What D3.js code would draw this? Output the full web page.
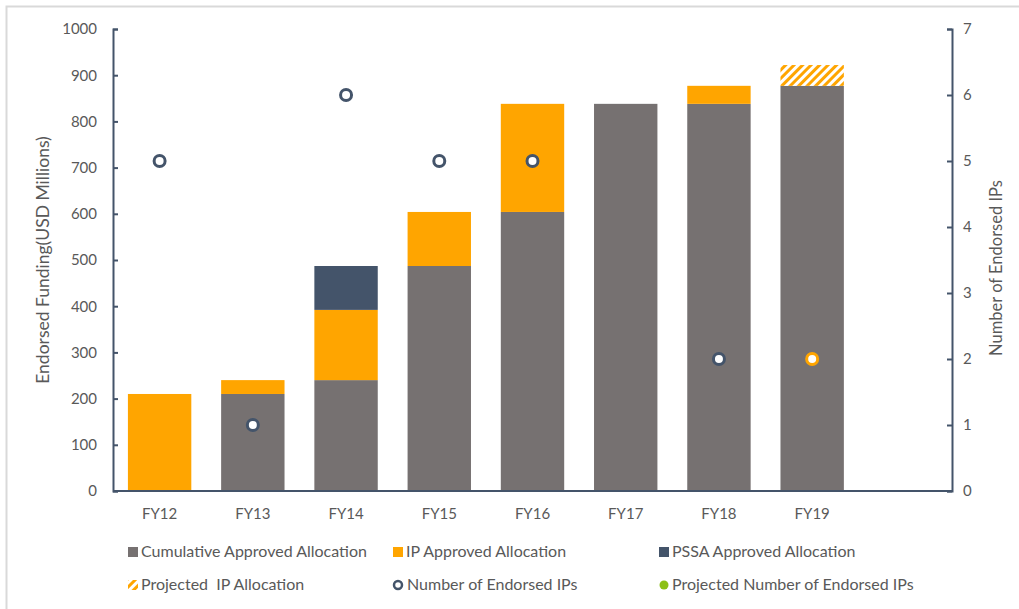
<!DOCTYPE html>
<html>
<head>
<meta charset="utf-8">
<script src="https://cdn.jsdelivr.net/npm/d3@7"></script>
<style>
    body { margin: 0; background: #fff; }
    svg text { font-family: Lato, "Open Sans", sans-serif; fill: #595959; }
</style>
</head>
<body>
<svg id="chart" width="1019" height="609"></svg>
<script>
// values
var categories = ['FY12', 'FY13', 'FY14', 'FY15', 'FY16', 'FY17', 'FY18', 'FY19', ''];
var cumulativeApproved = [0, 210, 240, 487, 604, 838, 838, 877, 0];
var ipApproved = [210, 30, 152, 117, 234, 0, 39, 0, 0];
var pssaApproved = [0, 0, 95, 0, 0, 0, 0, 0, 0];
var projectedIP = [0, 0, 0, 0, 0, 0, 0, 45, 0];
var endorsedIPs = [5, 1, 6, 5, 5, null, 2, null, null];
var projectedEndorsedIPs = [null, null, null, null, null, null, null, 2, null];
var leftTicks = [0, 100, 200, 300, 400, 500, 600, 700, 800, 900, 1000];
var rightTicks = [0, 1, 2, 3, 4, 5, 6, 7];

(function() {
    var GRAY = '#767171',
        ORANGE = '#FFA500',
        NAVY = '#44546A',
        GREEN = '#8CC016';

    var svg = d3.select('#chart');
    var mLeft = 113, mRight = 952, mTop = 29, mBottom = 491;

    // light frame round the figure
    svg.append('rect')
        .attr('x', 6.5).attr('y', 6.5)
        .attr('width', 1030).attr('height', 620)
        .attr('fill', 'none')
        .attr('stroke', '#d9d9d9')
        .attr('stroke-width', 2);

    var defs = svg.append('defs');
    var pat = defs.append('pattern')
        .attr('id', 'hatch')
        .attr('patternUnits', 'userSpaceOnUse')
        .attr('width', 6).attr('height', 6)
        .attr('patternTransform', 'rotate(45)');
    pat.append('rect').attr('width', 6).attr('height', 6).attr('fill', '#fff');
    pat.append('rect').attr('width', 3).attr('height', 6).attr('fill', ORANGE);

    var x = d3.scaleBand().domain(categories).range([mLeft, mRight]).paddingInner(0.32).paddingOuter(0.16);
    var y = d3.scaleLinear().domain([0, 1000]).range([mBottom, mTop]);
    var y2 = d3.scaleLinear().domain([0, 7]).range([mBottom, mTop]);

    var rows = categories.map(function(c, i) {
        return {cat: c, cum: cumulativeApproved[i], ip: ipApproved[i], pssa: pssaApproved[i], proj: projectedIP[i]};
    });
    var keys = ['cum', 'ip', 'pssa', 'proj'];
    var fills = {cum: GRAY, ip: ORANGE, pssa: NAVY, proj: 'url(#hatch)'};
    var stacked = d3.stack().keys(keys)(rows);

    svg.append('g').selectAll('g')
        .data(stacked)
        .join('g')
        .attr('fill', function(d) { return fills[d.key]; })
        .selectAll('rect')
        .data(function(d) { return d.filter(function(p) { return p[1] > p[0]; }); })
        .join('rect')
        .attr('x', function(d) { return x(d.data.cat); })
        .attr('width', x.bandwidth())
        .attr('y', function(d) { return y(d[1]); })
        .attr('height', function(d) { return y(d[0]) - y(d[1]); });

    // axes
    var leftAxis = svg.append('g')
        .attr('transform', 'translate(' + mLeft + ',0)')
        .call(d3.axisLeft(y).tickValues(leftTicks).tickFormat(d3.format('d')).tickSize(-5).tickPadding(16));
    var rightAxis = svg.append('g')
        .attr('transform', 'translate(' + mRight + ',0)')
        .call(d3.axisRight(y2).tickValues(rightTicks).tickFormat(d3.format('d')).tickSize(-5).tickPadding(11));
    var bottomAxis = svg.append('g')
        .attr('transform', 'translate(0,' + mBottom + ')')
        .call(d3.axisBottom(x).tickSize(0).tickPadding(17));

    [leftAxis, rightAxis, bottomAxis].forEach(function(a) {
        a.select('.domain').attr('stroke', NAVY).attr('stroke-width', 2);
        a.selectAll('.tick line').attr('stroke', NAVY).attr('stroke-width', 2);
        a.selectAll('.tick text').attr('font-size', 15).style('fill', '#595959')
            .style('font-family', 'Lato, "Open Sans", sans-serif');
    });
    bottomAxis.select('.domain').attr('d', 'M' + mLeft + ',0H' + mRight);

    svg.append('text')
        .attr('transform', 'translate(49,' + ((mTop + mBottom) / 2) + ') rotate(-90)')
        .attr('text-anchor', 'middle')
        .attr('font-size', 17.5)
        .text('Endorsed Funding(USD Millions)');
    svg.append('text')
        .attr('transform', 'translate(1002,268) rotate(-90)')
        .attr('text-anchor', 'middle')
        .attr('font-size', 16.5)
        .text('Number of Endorsed IPs');

    // endorsed IP markers
    var cx = function(d) { return x(d.cat) + x.bandwidth() / 2; };
    var pts = categories.map(function(c, i) { return {cat: c, v: endorsedIPs[i]}; })
        .filter(function(d) { return d.v !== null; });
    svg.append('g').selectAll('circle')
        .data(pts)
        .join('circle')
        .attr('cx', cx)
        .attr('cy', function(d) { return y2(d.v); })
        .attr('r', 5.5)
        .attr('fill', '#fff')
        .attr('stroke', NAVY)
        .attr('stroke-width', 3);

    var projPts = categories.map(function(c, i) { return {cat: c, v: projectedEndorsedIPs[i]}; })
        .filter(function(d) { return d.v !== null; });
    svg.append('g').selectAll('circle')
        .data(projPts)
        .join('circle')
        .attr('cx', cx)
        .attr('cy', function(d) { return y2(d.v); })
        .attr('r', 5.5)
        .attr('fill', '#fff')
        .attr('stroke', ORANGE)
        .attr('stroke-width', 3);

    // legend
    var legendItems = [
        {label: 'Cumulative Approved Allocation', kind: 'rect', fill: GRAY, x: 128, y: 552},
        {label: 'IP Approved Allocation', kind: 'rect', fill: ORANGE, x: 393, y: 552},
        {label: 'PSSA Approved Allocation', kind: 'rect', fill: NAVY, x: 659, y: 552},
        {label: 'Projected  IP Allocation', kind: 'hatch', fill: 'url(#hatch)', x: 128, y: 585},
        {label: 'Number of Endorsed IPs', kind: 'ring', fill: NAVY, x: 393, y: 585},
        {label: 'Projected Number of Endorsed IPs', kind: 'dot', fill: GREEN, x: 659, y: 585}
    ];
    var lg = svg.append('g').selectAll('g')
        .data(legendItems)
        .join('g')
        .attr('transform', function(d) { return 'translate(' + d.x + ',' + d.y + ')'; });
    lg.filter(function(d) { return d.kind === 'rect' || d.kind === 'hatch'; })
        .append('rect')
        .attr('x', 0).attr('y', -5)
        .attr('width', 10).attr('height', 10)
        .attr('fill', function(d) { return d.fill; });
    lg.filter(function(d) { return d.kind === 'ring'; })
        .append('circle')
        .attr('cx', 5).attr('cy', 0).attr('r', 4)
        .attr('fill', '#fff').attr('stroke', NAVY).attr('stroke-width', 2.5);
    lg.filter(function(d) { return d.kind === 'dot'; })
        .append('circle')
        .attr('cx', 5).attr('cy', 0).attr('r', 4.5)
        .attr('fill', GREEN);
    lg.append('text')
        .attr('x', function(d) { return d.kind === 'ring' ? 14 : 13; })
        .attr('y', 5)
        .attr('font-size', 16)
        .style('white-space', 'pre')
        .text(function(d) { return d.label; });
})();
</script>
</body>
</html>
